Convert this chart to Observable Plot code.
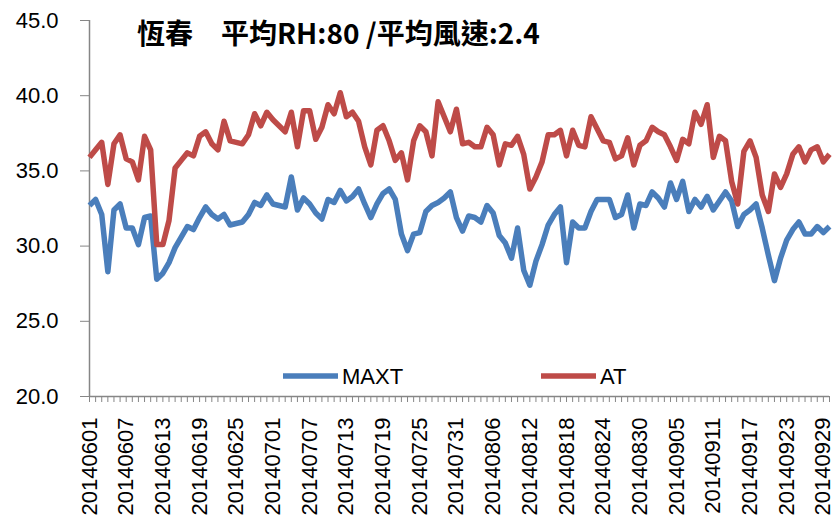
<!DOCTYPE html>
<html>
<head>
<meta charset="utf-8">
<script src="https://cdn.jsdelivr.net/npm/d3@7"></script>
<script src="https://cdn.jsdelivr.net/npm/@observablehq/plot@0.6"></script>
<style>
  body { margin: 0; background: #fff; }
  #wrap { position: relative; width: 835px; height: 521px; overflow: hidden; background: #fff; }
  #title { position: absolute; left: 137px; top: 16px; font-family: "Noto Sans CJK TC", sans-serif; font-weight: bold; font-size: 28px; color: #000; white-space: pre; line-height: 1.2; }
  #legend { position: absolute; left: 0; top: 0; }
</style>
</head>
<body>
<div id="wrap">
  <div id="chart"></div>
  <div id="title">恆春　平均RH:80 /平均風速:2.4</div>
  <svg id="legend" width="835" height="521"></svg>
</div>
<script>
// Category axis: daily dates 2014-06-01 .. 2014-09-30
const dates = d3.utcDay.range(new Date(Date.UTC(2014, 5, 1)), new Date(Date.UTC(2014, 9, 1))).map(d3.utcFormat("%Y%m%d"));

const tickLabels = ["20140601","20140607","20140613","20140619","20140625","20140701","20140707","20140713","20140719","20140725","20140731","20140806","20140812","20140818","20140824","20140830","20140905","20140911","20140917","20140923","20140929"];

const yTicks = [20, 25, 30, 35, 40, 45];

const seriesNames = ["MAXT", "AT"];
const seriesColors = ["#4A7EBB", "#BE4B48"];

const maxt = [
  32.7, 33.1, 32.1, 28.3, 32.4, 32.8, 31.2, 31.2, 30.1, 31.9, 32.0, 27.8, 28.2, 28.9, 29.9, 30.6, 31.3, 31.1, 31.9, 32.6, 32.1, 31.8, 32.1, 31.4, 31.5,
  31.6, 32.1, 32.9, 32.7, 33.4, 32.8, 32.7, 32.6, 34.6, 32.4, 33.2, 32.8, 32.2, 31.8, 33.1, 32.9, 33.7, 33.0, 33.3, 33.8, 32.8, 31.9, 32.8, 33.5,
  33.8, 33.1, 30.8, 29.7, 30.8, 30.9, 32.3, 32.7, 32.9, 33.2, 33.6, 31.9, 31.0, 32.0, 31.9, 31.6, 32.7, 32.2, 30.7, 30.2, 29.2, 31.2, 28.4, 27.4,
  29.0, 30.1, 31.4, 32.1, 32.6, 28.9, 31.6, 31.2, 31.2, 32.3, 33.1, 33.1, 33.1, 31.9, 32.1, 33.4, 31.2, 32.8, 32.7, 33.6, 33.2, 32.6, 34.2, 33.1, 34.3,
  32.3, 33.1, 32.6, 33.3, 32.4, 33.0, 33.6, 33.0, 31.3, 32.1, 32.4, 32.8, 31.2, 29.4, 27.7, 29.2, 30.4, 31.1, 31.6, 30.8, 30.8, 31.3, 30.9, 31.3
];

const at = [
  35.9, 36.4, 36.9, 34.1, 36.8, 37.4, 35.8, 35.6, 34.4, 37.3, 36.4, 30.1, 30.1, 31.7, 35.2, 35.7, 36.2, 36.0, 37.3, 37.6, 36.8, 36.4, 38.3, 37.0, 36.9,
  36.8, 37.4, 38.8, 38.0, 38.9, 38.4, 38.0, 37.6, 38.9, 36.6, 39.0, 39.0, 37.1, 37.9, 39.4, 38.8, 40.2, 38.6, 38.9, 38.3, 36.6, 35.4, 37.7, 38.0,
  37.0, 35.7, 36.2, 34.4, 37.0, 38.0, 37.6, 36.0, 39.6, 38.6, 37.6, 39.1, 36.8, 36.9, 36.6, 36.6, 37.9, 37.4, 35.4, 36.8, 36.7, 37.3, 36.1, 33.8,
  34.6, 35.6, 37.4, 37.4, 37.7, 36.0, 37.7, 36.7, 36.6, 38.6, 37.8, 37.0, 36.9, 35.8, 36.0, 37.2, 35.4, 36.7, 37.0, 37.9, 37.6, 37.4, 36.6, 35.7, 37.1,
  36.8, 38.9, 38.1, 39.4, 35.9, 37.3, 37.0, 34.3, 32.8, 36.3, 37.0, 35.9, 33.4, 32.3, 34.8, 33.9, 34.8, 36.1, 36.6, 35.6, 36.4, 36.6, 35.6, 36.1
];

const rowsMaxt = dates.map((d, i) => ({date: d, value: maxt[i]}));
const rowsAt = dates.map((d, i) => ({date: d, value: at[i]}));

const axisGray = "#868686";

const chart = Plot.plot({
  width: 835,
  height: 521,
  marginLeft: 89,
  marginRight: 6,
  marginTop: 20,
  marginBottom: 125,
  style: { fontFamily: "Liberation Sans, Arial, sans-serif", color: "#000", background: "transparent" },
  x: { type: "point", domain: dates, padding: 0, round: false, label: null, axis: null },
  y: { domain: [20, 45], label: null, axis: null },
  marks: [
    Plot.ruleX([dates[0]], { stroke: axisGray, strokeWidth: 1.5 }),
    Plot.ruleY([20], { stroke: axisGray, strokeWidth: 1.5 }),
    Plot.axisY({ ticks: yTicks, tickFormat: d => d.toFixed(1), tickSize: 9, tickPadding: 22, fontSize: 22, stroke: axisGray, label: null }),
    Plot.axisX({ ticks: dates, tickSize: 6, tickFormat: () => "", stroke: axisGray, label: null }),
    Plot.axisX({ ticks: tickLabels, tickSize: 0, tickPadding: 21, tickRotate: -90, fontSize: 22, label: null }),
    Plot.line(rowsMaxt, { x: "date", y: "value", stroke: seriesColors[0], strokeWidth: 5.5, strokeLinejoin: "round", strokeLinecap: "butt" }),
    Plot.line(rowsAt, { x: "date", y: "value", stroke: seriesColors[1], strokeWidth: 5.5, strokeLinejoin: "round", strokeLinecap: "butt" })
  ]
});
document.getElementById("chart").appendChild(chart);

// Legend (inside plot area, bottom)
const legend = d3.select("#legend");
const legendItems = [
  { name: seriesNames[0], color: seriesColors[0], x: 283 },
  { name: seriesNames[1], color: seriesColors[1], x: 541 }
];
legendItems.forEach(it => {
  legend.append("line").attr("x1", it.x).attr("x2", it.x + 55).attr("y1", 376).attr("y2", 376)
    .attr("stroke", it.color).attr("stroke-width", 5.5);
  legend.append("text").attr("x", it.x + 59).attr("y", 376).attr("dy", "0.36em")
    .attr("font-family", "Liberation Sans, Arial, sans-serif").attr("font-size", 22).attr("fill", "#000")
    .text(it.name);
});
</script>
</body>
</html>
